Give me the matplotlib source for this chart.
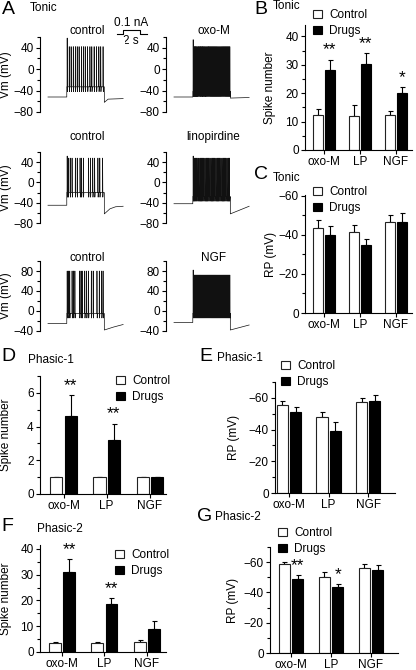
import numpy as np
import matplotlib
matplotlib.use("Agg")
import matplotlib.pyplot as plt
from matplotlib.patches import Patch
from matplotlib.ticker import MultipleLocator

plt.rcParams['font.family'] = ['Liberation Sans', 'DejaVu Sans']
plt.rcParams['font.size'] = 8.5

W, H = 416, 670

groups = ['oxo-M', 'LP', 'NGF']

# B: tonic, spike number
b_ctrl = [12.2, 11.8, 12.2]
b_ctrl_err = [2.3, 4.1, 1.6]
b_drug = [28.0, 30.4, 20.0]
b_drug_err = [3.7, 3.7, 2.1]
b_stars = ['**', '**', '*']

# C: tonic, resting potential
c_ctrl = [-43.6, -41.7, -46.9]
c_ctrl_err = [4.2, 3.4, 3.4]
c_drug = [-40.2, -35.1, -46.9]
c_drug_err = [4.5, 2.9, 4.3]

# D: phasic-1, spike number
d_ctrl = [1.0, 1.0, 1.0]
d_ctrl_err = [0, 0, 0]
d_drug = [4.6, 3.2, 1.0]
d_drug_err = [1.25, 0.95, 0]
d_stars = ['**', '**', '']

# E: phasic-1, resting potential
e_ctrl = [-55.7, -47.7, -57.2]
e_ctrl_err = [2.6, 3.6, 2.6]
e_drug = [-51.1, -39.2, -58.3]
e_drug_err = [3.2, 5.3, 3.2]

# F: phasic-2, spike number
f_ctrl = [3.3, 3.5, 4.05]
f_ctrl_err = [0.6, 0.5, 0.5]
f_drug = [31.0, 18.5, 9.1]
f_drug_err = [5.2, 2.4, 2.9]
f_stars = ['**', '**', '']

# G: phasic-2, resting potential
g_ctrl = [-58.7, -50.4, -56.0]
g_ctrl_err = [1.7, 2.9, 2.9]
g_drug = [-48.9, -43.4, -54.9]
g_drug_err = [2.7, 2.2, 3.3]
g_stars = ['**', '*', '']

# A: example traces (time in s, Vm in mV); current step 2-6 s
r1_ctrl_spk = [2.03, 2.25, 2.45, 2.68, 2.9, 3.1, 3.3, 3.55, 3.75, 3.95, 4.2,
               4.45, 4.65, 4.9, 5.15, 5.4, 5.6, 5.85]
r1_oxo_spk = [2.03, 2.12, 2.21, 2.3, 2.39, 2.48, 2.58, 2.67, 2.77, 2.86, 2.96,
              3.05, 3.15, 3.25, 3.34, 3.44, 3.54, 3.64, 3.73, 3.83, 3.93, 4.03,
              4.13, 4.23, 4.33, 4.43, 4.53, 4.63, 4.73, 4.83, 4.93, 5.03, 5.13,
              5.23, 5.33, 5.43, 5.53, 5.63, 5.73, 5.83, 5.93]
r2_ctrl_spk = [2.03, 2.15, 2.35, 2.55, 2.9, 3.1, 3.4, 3.55, 3.75, 4.3, 4.5,
               4.75, 4.95, 5.3, 5.5, 5.8]
r2_lino_spk = [2.03, 2.15, 2.28, 2.4, 2.53, 2.65, 2.78, 2.9, 3.03, 3.16, 3.29,
               3.42, 3.55, 3.68, 3.81, 3.94, 4.07, 4.2, 4.33, 4.46, 4.59, 4.72,
               4.85, 4.98, 5.11, 5.24, 5.37, 5.5, 5.63, 5.76, 5.89]
r3_ctrl_spk = [2.03, 2.18, 2.3, 2.55, 2.7, 2.85, 3.35, 3.5, 3.62, 3.9, 4.1,
               4.3, 4.6, 4.8, 5.2, 5.45, 5.7, 5.85]
r3_ngf_spk = [2.03, 2.13, 2.23, 2.33, 2.43, 2.53, 2.63, 2.73, 2.83, 2.93, 3.03,
              3.13, 3.23, 3.33, 3.43, 3.53, 3.63, 3.73, 3.83, 3.93, 4.03, 4.13,
              4.23, 4.33, 4.43, 4.53, 4.63, 4.73, 4.83, 4.93, 5.03, 5.13, 5.23,
              5.33, 5.43, 5.53, 5.63, 5.73, 5.83, 5.93]

# (label, base, plateau, peak, first peak, spikes, after-step points)
traces = [
    ('control', -52, -33, 42, 58, r1_ctrl_spk, [(6.0, -62), (6.4, -56), (8.0, -55)]),
    ('oxo-M', -52, -42, 42, 55, r1_oxo_spk, [(6.0, -54), (8.0, -53)]),
    ('control', -45, -20, 48, 52, r2_ctrl_spk, [(6.0, -62), (6.6, -52), (7.2, -48), (8.0, -47)]),
    ('linopirdine', -42, -28, 48, 52, r2_lino_spk, [(6.0, -62), (8.0, -47)]),
    ('control', -25, -5, 80, 80, r3_ctrl_spk, [(6.0, -38), (7.0, -32), (8.0, -27)]),
    ('NGF', -23, -5, 72, 82, r3_ngf_spk, [(6.0, -38), (8.0, -28)]),
]


def box(x0, y0, x1, y1):
    return fig.add_axes([x0 / W, 1 - y1 / H, (x1 - x0) / W, (y1 - y0) / H])


def build(base, plateau, peak, first, spikes, post):
    t = [0, 2.0, 2.0]
    v = [base, base, plateau]
    for i, s in enumerate(spikes):
        pk = first if i == 0 else peak
        t += [s, s + 0.015, s + 0.04, s + 0.07]
        v += [plateau, pk, plateau - 9, plateau]
    t += [6.0]
    v += [plateau]
    for tt, vv in post:
        t.append(tt)
        v.append(vv)
    return t, v


def style(ax):
    for s in ['top', 'right']:
        ax.spines[s].set_visible(False)
    for s in ['left', 'bottom']:
        ax.spines[s].set_linewidth(0.8)
    ax.tick_params(width=0.8, length=3, labelsize=8.5, pad=1.5)
    ax.tick_params(which='minor', width=0.8, length=2)


def set_ylab(ax, text, xpx):
    bb = ax.get_position()
    x_ax = (xpx / W - bb.x0) / bb.width
    ax.set_ylabel(text, fontsize=8.5)
    ax.yaxis.label.set_verticalalignment('center')
    ax.yaxis.set_label_coords(x_ax, 0.5)


fig = plt.figure(figsize=(W / 100, H / 100), dpi=100)
ov = fig.add_axes([0, 0, 1, 1])
ov.set_xlim(0, W)
ov.set_ylim(H, 0)
ov.axis('off')

# ---- A: traces
rows = [((37, 112), (-80, 60), 40, 20, 31),
        ((152, 223), (-80, 60), 40, 20, 137),
        ((261, 331), (-40, 100), 40, 20, 258)]
cols = [(40, 125), (166, 251)]
k = 0
for (y0, y1), ylim, maj, mnr, ty in rows:
    for c, (x0, x1) in enumerate(cols):
        lab, base, plat, pk, first, spk, post = traces[k]
        k += 1
        ax = box(x0, y0, x1, y1)
        t, v = build(base, plat, pk, first, spk, post)
        ax.plot(t, v, color='#111111', lw=0.5)
        ax.set_xlim(-0.85, 8.2)
        ax.set_ylim(*ylim)
        ax.yaxis.set_minor_locator(MultipleLocator(mnr))
        style(ax)
        ax.spines['bottom'].set_visible(False)
        ax.set_xticks([])
        ax.set_yticks([y for y in range(ylim[0], ylim[1] + 1, maj) if y <= ylim[1] - 15])
        if c == 0:
            set_ylab(ax, 'Vm (mV)', 6)
        ov.text((x0 + x1) / 2 + 5, ty, lab, ha='center', va='center', fontsize=8.5)

# scale bar
ov.text(131, 23, '0.1 nA', ha='center', va='center', fontsize=8.5)
ov.plot([117, 123, 123, 140, 140, 147], [34, 34, 30, 30, 34, 34], color='k', lw=0.8)
ov.text(131, 41, '2 s', ha='center', va='center', fontsize=8.5)


def bar_panel(rect, xl, yl, ctrl, cerr, drug, derr, stars, major, minor,
              ylab, ylab_x, leg_xy, star_pad, neg=False):
    ax = box(*rect)
    x = np.arange(len(groups))
    off, wd = 0.165, 0.28
    ax.bar(x - off, ctrl, wd, color='white', edgecolor='#222222', lw=0.8, zorder=2)
    ax.bar(x + off, drug, wd, color='black', edgecolor='black', lw=0.8, zorder=2)
    z = np.zeros(len(groups))
    if neg:
        ce, de = [cerr, z], [derr, z]
    else:
        ce, de = [z, cerr], [z, derr]
    ax.errorbar(x - off, ctrl, yerr=ce, fmt='none', ecolor='k', elinewidth=0.8,
                capsize=1.8, capthick=0.8, zorder=1)
    ax.errorbar(x + off, drug, yerr=de, fmt='none', ecolor='k', elinewidth=0.8,
                capsize=1.8, capthick=0.8, zorder=1)
    for i, s in enumerate(stars):
        if s:
            top = drug[i] - derr[i] if neg else drug[i] + derr[i]
            ypos = top - star_pad if neg else top + star_pad
            ax.text(x[i] + off, ypos, s, ha='center', va='center', fontsize=12.5)
    ax.set_xlim(*xl)
    ax.set_ylim(*yl)
    ax.set_xticks(x)
    ax.set_xticklabels(groups)
    ax.yaxis.set_major_locator(MultipleLocator(major))
    ax.yaxis.set_minor_locator(MultipleLocator(minor))
    style(ax)
    set_ylab(ax, ylab, ylab_x)
    hs = [Patch(facecolor='white', edgecolor='#222222', lw=0.8),
          Patch(facecolor='black', edgecolor='black', lw=0.8)]
    ax.legend(hs, ['Control', 'Drugs'], loc='upper left',
              bbox_to_anchor=(leg_xy[0] / W, 1 - leg_xy[1] / H),
              bbox_transform=fig.transFigure, frameon=False, fontsize=8.5,
              handlelength=0.75, handleheight=0.75, handletextpad=0.6,
              labelspacing=0.35, borderaxespad=0, borderpad=0)
    return ax


bar_panel((305, 25, 412, 150), (-0.528, 2.444), (0, 44), b_ctrl, b_ctrl_err,
          b_drug, b_drug_err, b_stars, 10, 5, 'Spike number', 270, (313, 9), 3.5)
axc = bar_panel((305, 195, 412, 313), (-0.528, 2.444), (0, -60.5), c_ctrl, c_ctrl_err,
                c_drug, c_drug_err, ['', '', ''], 20, 10, 'RP (mV)', 271, (313, 186), 0, neg=True)
axc.set_yticks([0, -20, -40, -60])
bar_panel((40, 376, 166, 494), (-0.547, 2.38), (0, 7.0), d_ctrl, d_ctrl_err,
          d_drug, d_drug_err, d_stars, 2, 1, 'Spike number', 6, (116, 375), 0.6)
axe = bar_panel((275, 382, 395, 493), (-0.354, 2.68), (0, -70), e_ctrl, e_ctrl_err,
                e_drug, e_drug_err, ['', '', ''], 20, 10, 'RP (mV)', 234, (281, 360), 0, neg=True)
axe.set_yticks([0, -20, -40, -60])
bar_panel((40, 545, 166, 652), (-0.518, 2.45), (0, 41.5), f_ctrl, f_ctrl_err,
          f_drug, f_drug_err, f_stars, 10, 5, 'Spike number', 6, (115, 549), 3.5)
axg = bar_panel((270, 547, 398, 653), (-0.525, 2.675), (0, -70), g_ctrl, g_ctrl_err,
                g_drug, g_drug_err, g_stars, 20, 10, 'RP (mV)', 233, (278, 527), 6.0, neg=True)
axg.set_yticks([0, -20, -40, -60])

# panel letters and titles
letters = [('A', 2, 1, 'Tonic', 30, 2), ('B', 254, 1, 'Tonic', 273, 0),
           ('C', 254, 166, 'Tonic', 273, 172), ('D', 1, 348, 'Phasic-1', 28, 354),
           ('E', 199, 348, 'Phasic-1', 217, 352), ('F', 1, 518, 'Phasic-2', 37, 523),
           ('G', 197, 508, 'Phasic-2', 215, 511)]
for L, lx, ly, tt, tx, ty in letters:
    ov.text(lx, ly, L, ha='left', va='top', fontsize=14)
    ov.text(tx, ty, tt, ha='left', va='top', fontsize=8.5)

fig.savefig('out.png', dpi=100)
